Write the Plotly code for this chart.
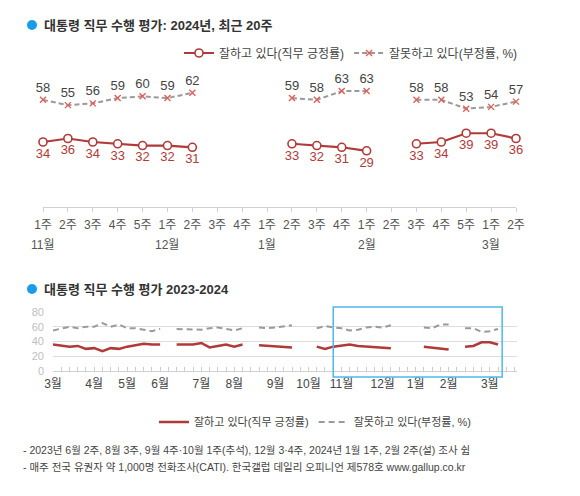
import plotly.graph_objects as go

W, H = 580, 496
OFF = 8  # the page body keeps its default 8px margin
FONT = "Liberation Sans, Noto Sans CJK KR"

RED = "#b03a3a"
GRAY = "#9a9a9a"
XRED = "#e0605a"

# ---- top chart: last 20 weeks ----
recent_months = ["11월"] * 5 + ["12월"] * 4 + ["1월"] * 4 + ["2월"] * 5 + ["3월"] * 2
recent_weeks = ["1주", "2주", "3주", "4주", "5주",
                "1주", "2주", "3주", "4주",
                "1주", "2주", "3주", "4주",
                "1주", "2주", "3주", "4주", "5주",
                "1주", "2주"]
recent_approve = [34, 36, 34, 33, 32, 32, 31, None, None, None,
                  33, 32, 31, 29, None, 33, 34, 39, 39, 36]
recent_disapprove = [58, 55, 56, 59, 60, 59, 62, None, None, None,
                     59, 58, 63, 63, None, 58, 58, 53, 54, 57]

# ---- bottom chart: 2023-03 to 2024-03, weekly ----
bottom_months = ["3월", "4월", "5월", "6월", "7월", "8월", "9월",
                 "10월", "11월", "12월", "1월", "2월", "3월"]
bottom_month_weeks = [5, 4, 4, 5, 4, 5, 4, 4, 5, 4, 4, 5, 4]
earlier_approve = [36, 34, 33, 34, 30,
                   31, 27, 31, 30,
                   33, 35, 37, 36,
                   36, None, 36, 36, 36,
                   38, 32, 34, 36,
                   33, 36, None, 35, 34,
                   33, 32, 32, None,
                   None, 33, 30, 33]
earlier_disapprove = [55, 57, 60, 58, 60,
                      60, 65, 60, 63,
                      58, 58, 56, 54,
                      57, None, 57, 57, 56,
                      56, 58, 59, 57,
                      55, 58, None, 59, 58,
                      59, 60, 62, None,
                      None, 58, 61, 59]
y_ticks = [0, 20, 40, 60, 80]

recent_cats = [f"{m} {w}" for m, w in zip(recent_months, recent_weeks)]

bottom_cats = []
bottom_ticktext = []
for i, (m, n) in enumerate(zip(bottom_months, bottom_month_weeks)):
    for k in range(n):
        bottom_cats.append(f"{i}-{m} {k + 1}주")
        bottom_ticktext.append(m if k == 0 else "")

pad = [None] * (len(bottom_cats) - len(earlier_approve) - len(recent_approve))
bottom_approve = earlier_approve + recent_approve + pad
bottom_disapprove = earlier_disapprove + recent_disapprove + pad


def fx(p):
    return (p - OFF) / W


def fy(p):
    return 1 - (p - OFF) / H


fig = go.Figure()

fig.add_trace(go.Scatter(
    x=recent_cats, y=recent_approve,
    mode="lines+markers+text", name="잘하고 있다(직무 긍정률)",
    line=dict(color=RED, width=2.2),
    marker=dict(symbol="circle", size=8, color="white", line=dict(color=RED, width=1.6)),
    text=[str(v) if v is not None else "" for v in recent_approve],
    textposition="bottom center",
    textfont=dict(color=RED, size=13, family=FONT),
    cliponaxis=False, legend="legend",
))
fig.add_trace(go.Scatter(
    x=recent_cats, y=recent_disapprove,
    mode="lines+markers+text", name="잘못하고 있다(부정률, %)",
    line=dict(color=GRAY, width=2, dash="5px,3px"),
    marker=dict(symbol="x-thin", size=6, color=XRED, line=dict(color=XRED, width=1.4)),
    text=[str(v) if v is not None else "" for v in recent_disapprove],
    textposition="top center",
    textfont=dict(color="#444444", size=13, family=FONT),
    cliponaxis=False, legend="legend",
))

fig.add_trace(go.Scatter(
    x=bottom_cats, y=bottom_approve, xaxis="x2", yaxis="y2",
    mode="lines", name="잘하고 있다(직무 긍정률)",
    line=dict(color=RED, width=2.5), legend="legend2",
))
fig.add_trace(go.Scatter(
    x=bottom_cats, y=bottom_disapprove, xaxis="x2", yaxis="y2",
    mode="lines", name="잘못하고 있다(부정률, %)",
    line=dict(color=GRAY, width=2, dash="6px,4px"), legend="legend2",
))

# month labels under the top axis
annotations = []
for i, (m, c) in enumerate(zip(recent_months, recent_cats)):
    if i == 0 or recent_months[i - 1] != m:
        annotations.append(dict(x=c, y=fy(245), xref="x", yref="paper", text=m,
                                showarrow=False, yanchor="middle",
                                font=dict(size=12, color="#555555", family=FONT)))

shapes = []
for ty, txt in [(25, "대통령 직무 수행 평가: 2024년, 최근 20주"), (289, "대통령 직무 수행 평가 2023-2024")]:
    shapes.append(dict(type="circle", xref="paper", yref="paper",
                       x0=fx(27), x1=fx(37), y0=fy(ty + 5), y1=fy(ty - 5),
                       fillcolor="#1a9ce8", line=dict(width=0)))
    annotations.append(dict(x=fx(42), y=fy(ty), xref="paper", yref="paper", text=f"<b>{txt}</b>",
                            xanchor="left", yanchor="middle", showarrow=False,
                            font=dict(size=13, color="#333333", family=FONT)))

notes = ["- 2023년 6월 2주, 8월 3주, 9월 4주·10월 1주(추석), 12월 3·4주, 2024년 1월 1주, 2월 2주(설) 조사 쉼",
         "- 매주 전국 유권자 약 1,000명 전화조사(CATI). 한국갤럽 데일리 오피니언 제578호 www.gallup.co.kr"]
for ty, txt in zip([450, 467], notes):
    annotations.append(dict(x=fx(21), y=fy(ty), xref="paper", yref="paper", text=txt,
                            xanchor="left", yanchor="middle", showarrow=False,
                            font=dict(size=10.5, color="#444444", family=FONT)))

# blue frame around the recent 20 weeks in the overview chart
x2_left, x2_right = 53, 517
x2_range = [0, len(bottom_cats) - 0.7]
step = (x2_right - x2_left) / (x2_range[1] - x2_range[0])
start = len(earlier_approve) - 1
shapes.append(dict(type="rect", xref="paper", yref="paper",
                   x0=fx(x2_left + start * step),
                   x1=fx(x2_left + (start + len(recent_approve) + 0.5) * step),
                   y0=fy(377), y1=fy(307),
                   line=dict(color="#4db8f0", width=1.5)))

fig.update_layout(
    width=W, height=H,
    margin=dict(l=0, r=0, t=0, b=0, autoexpand=False),
    paper_bgcolor="white", plot_bgcolor="white",
    font=dict(family=FONT, color="#444444"),
    annotations=annotations, shapes=shapes,
    xaxis=dict(
        domain=[fx(43), fx(516)], anchor="y",
        type="category", range=[0, len(recent_cats) - 1],
        tickvals=recent_cats, ticktext=recent_weeks,
        showgrid=False, showline=True, linecolor="#d0d0d0", linewidth=1,
        ticks="outside", ticklen=4, tickcolor="#d0d0d0",
        tickfont=dict(size=12, color="#555555"), ticklabelstandoff=3,
    ),
    yaxis=dict(
        domain=[fy(207), fy(70)], anchor="x",
        range=[-3, 75], visible=False, showgrid=False, zeroline=False,
    ),
    xaxis2=dict(
        domain=[fx(x2_left), fx(x2_right)], anchor="y2",
        type="category", range=x2_range,
        tickvals=bottom_cats, ticktext=bottom_ticktext,
        showgrid=False, showline=True, linecolor="#d0d0d0", linewidth=1,
        ticks="inside", ticklen=4, tickcolor="#cccccc",
        tickfont=dict(size=12, color="#444444"), ticklabelstandoff=2,
    ),
    yaxis2=dict(
        domain=[fy(371), fy(312)], anchor="x2",
        range=[0, 80], tickvals=y_ticks,
        showgrid=True, gridcolor="#dddddd", gridwidth=1, zeroline=False,
        tickfont=dict(size=11, color="#c0c0c0"), ticklabelstandoff=8,
    ),
    legend=dict(
        orientation="h", x=fx(523), xanchor="right", y=fy(53), yanchor="middle",
        font=dict(size=12, color="#444444"), bgcolor="rgba(0,0,0,0)",
        itemwidth=30, tracegroupgap=0,
    ),
    legend2=dict(
        orientation="h", x=fx(476), xanchor="right", y=fy(422), yanchor="middle",
        font=dict(size=11, color="#444444"), bgcolor="rgba(0,0,0,0)",
        itemwidth=30,
    ),
)

fig.write_html("out.html")
